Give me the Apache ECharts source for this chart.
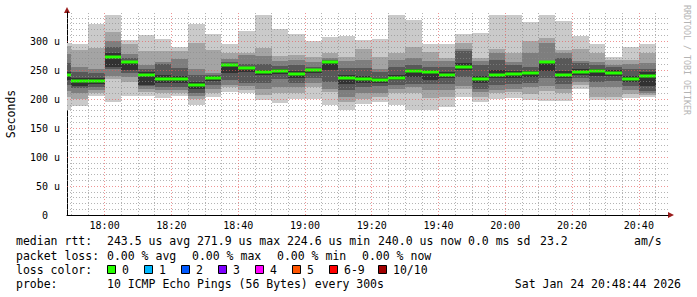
<!DOCTYPE html>
<html><head><meta charset="utf-8">
<script src="https://cdn.jsdelivr.net/npm/echarts@6/dist/echarts.min.js"></script>
<style>html,body{margin:0;padding:0;background:#fff}#c{width:697px;height:297px}</style>
</head><body><div id="c"></div>
<script>
// ---- data (rtt in microseconds; each sample = 10 sorted pings + median, 5-minute steps) ----
const sampleTimes = ['17:50','17:55','18:00','18:05','18:10','18:15','18:20','18:25','18:30','18:35','18:40','18:45',
  '18:50','18:55','19:00','19:05','19:10','19:15','19:20','19:25','19:30','19:35','19:40','19:45',
  '19:50','19:55','20:00','20:05','20:10','20:15','20:20','20:25','20:30','20:35','20:40','20:45'];
const ping1  = [181,188,205,195,205,205,202,205,190,204,212,210,198,193,200,200,190,181,191,194,190,181,181,186,204,194,200,202,198,197,197,217,198,198,201,204];
const ping2  = [203,200,211,234,230,212,210,210,200,211,220,216,207,211,210,220,212,194,200,204,210,211,201,204,217,204,210,212,208,214,210,224,204,204,208,207];
const ping3  = [213,210,216,240,238,217,215,216,205,217,225,222,217,220,220,228,218,203,210,210,218,220,215,215,222,212,216,218,220,222,218,230,220,220,215,210];
const ping4  = [225,219,221,252,244,222,221,221,210,224,233,227,227,234,228,237,229,216,220,222,225,226,226,226,238,217,224,226,228,236,226,236,230,231,222,214];
const ping5  = [232,223,226,256,250,225,228,228,218,231,244,247,241,243,236,244,250,226,227,228,232,238,232,236,250,228,236,236,238,249,236,241,240,240,230,222];
const median = [241,231,231,271.9,264,241,234,234,224.6,237,258.6,253.4,246,248.5,243.6,250,264,235.7,234,233,237,248.5,246,241.5,256,235,242,243.5,245,263.2,241,246.4,248.5,245,234,240];
const ping6  = [246,236,236,280,266,246,242,240,230,240,261,256,250,251,249,252,266,242,240,236,242,252,250,246,262,240,250,248,249,265,248,252,252,250,240,246];
const ping7  = [262,246,245,290,271,251,260,253,241,242,264,260,260,257,259,256,268,254,253,246,256,259,255,255,282,258,268,258,255,266,270,262,258,255,252,251];
const ping8  = [278,256,252,300,278,258,264,269,251,245,269,276,274,266,267,264,271,265,268,252,267,270,266,265,286,265,279,264,279,296,280,266,263,258,260,262];
const ping9  = [292,284,288,316,294,283,283,283,297,284,280,279,288,275,276,272,280,272,286,273,280,290,281,270,296,270,287,280,300,305,285,287,279,267,268,279];
const ping10 = [297,294,330,345,301,311,303,290,330,312,295,317,345,320,312,300,307,309,302,303,345,336,295,295,312,313,345,345,333,345,334,309,295,272,290,295];
const xTickLabels = ['18:00','18:20','18:40','19:00','19:20','19:40','20:00','20:20','20:40'];
const yTickValues = [0,50,100,150,200,250,300];
const rangeStart = '17:48:44', rangeEnd = '20:48:44';
const statLine1 = ['median rtt:','243.5 us avg','271.9 us max','224.6 us min','240.0 us now','0.0 ms sd','23.2','am/s'];
const statLine2 = ['packet loss:','0.00 % avg','0.00 % max','0.00 % min','0.00 % now'];
const lossLabels = ['0','1','2','3','4','5','6-9','10/10'];
const lossColors = ['#26ff00','#00b8ff','#0059ff','#7e00ff','#ff00ff','#ff5500','#ff0000','#a10000'];
const probeText = '10 ICMP Echo Pings (56 Bytes) every 300s';
const stampText = 'Sat Jan 24 20:48:44 2026';

// ---- build ----
function toMin(s){ const p = s.split(':').map(Number); return p[0]*60 + p[1] + (p[2]||0)/60; }
const xMin = toMin(rangeStart), xMax = toMin(rangeEnd), step = 5;
const pings = [ping1,ping2,ping3,ping4,ping5,ping6,ping7,ping8,ping9,ping10];
const bandColors = ['#cacaca','#a4a4a4','#7e7e7e','#585858','#323232'];
const smokeData = [];
for (let b = 0; b < 5; b++) {
  for (let i = 0; i < sampleTimes.length; i++) {
    const t1 = toMin(sampleTimes[i]);
    smokeData.push([Math.max(t1 - step, xMin), t1, pings[b][i], pings[9 - b][i], b]);
  }
}
const medianData = sampleTimes.map((t, i) => [Math.max(toMin(t) - step, xMin), toMin(t), median[i]]);
const majorX = xTickLabels.map(toMin);
const minorX = [], minorY = [], majorY = [];
for (let t = Math.ceil(xMin / 5) * 5; t < xMax; t += 5) if (t % 20 !== 0) minorX.push(t);
for (let v = 10; v < 350; v += 10) (v % 50 === 0 ? majorY : minorY).push(v);

const mono = '"DejaVu Sans Mono", monospace';
function fmtTime(v){ const h = Math.floor(v/60), m = Math.round(v%60); return (h<10?'0':'')+h+':'+(m<10?'0':'')+m; }

const minorStyle = {color:'rgba(140,140,140,0.65)', width:1, type:[1,2]};
const majorStyle = {color:'rgba(230,90,90,0.65)', width:1, type:[1,2]};
function ml(arr, key, style){ return arr.map(v => ({[key]: v, lineStyle: style})); }

function rectItem(api, x0, x1, lo, hi, fill){
  const a = api.coord([x0, hi]), b = api.coord([x1, lo]);
  const xa = Math.round(a[0]), xb = Math.round(b[0]), ya = Math.round(a[1]), yb = Math.round(b[1]);
  return {type:'rect', shape:{x:xa, y:ya, width:xb-xa, height:Math.max(yb-ya,1)}, style:{fill:fill}};
}

const legendFont = '11.5px ' + mono;
const graphics = [];
function txt(t, x, y, opts){ graphics.push({type:'text', x:x, y:y, style:Object.assign({text:t, fill:'#000', font:legendFont, verticalAlign:'middle', align:'left'}, opts||{})}); }
const l1x = [16,107,197,287,378,468,540,634];
statLine1.forEach((t,i)=>txt(t, l1x[i], 241));
const l2x = [16,107,192,277,362];
statLine2.forEach((t,i)=>txt(t, l2x[i], 255.5));
txt('loss color:', 16, 269.5);
const boxX = [107,144,181,218,255,292,329,378];
lossLabels.forEach((t,i)=>{
  graphics.push({type:'rect', shape:{x:boxX[i]+0.5, y:265.5, width:8, height:8}, style:{fill:lossColors[i], stroke:'#000', lineWidth:1}});
  txt(t, boxX[i]+15, 269.5);
});
txt('probe:', 16, 284);
txt(probeText, 107, 284);
txt(stampText, 681, 284, {align:'right'});
graphics.push({type:'text', x:11, y:114, rotation:Math.PI/2, style:{text:'Seconds', fill:'#000', font:'11.5px '+mono, align:'center', verticalAlign:'middle'}});
graphics.push({type:'text', x:687, y:60, rotation:-Math.PI/2, style:{text:'RRDTOOL / TOBI OETIKER', fill:'#b4b4b4', font:'8.3px '+mono, align:'center', verticalAlign:'middle'}});
graphics.push({type:'polygon', shape:{points:[[64,13],[70,13],[67,7]]}, style:{fill:'#9a1c1c'}});
graphics.push({type:'polygon', shape:{points:[[668,212],[668,218],[674,215]]}, style:{fill:'#9a1c1c'}});

const chart = echarts.init(document.getElementById('c'), null, {renderer:'svg'});
chart.setOption({
  animation:false,
  backgroundColor:'#fff',
  grid:{left:67, right:29, top:12, bottom:82},
  xAxis:{type:'value', min:xMin, max:xMax,
    axisLine:{show:true, lineStyle:{color:'#000', width:1}},
    axisTick:{show:false},
    splitLine:{show:false},
    axisLabel:{customValues:majorX, formatter:fmtTime, color:'#000', fontFamily:mono, fontSize:10, margin:5}},
  yAxis:{type:'value', min:0, max:350, interval:50,
    axisLine:{show:true, lineStyle:{color:'#000', width:1}},
    axisTick:{show:false},
    splitLine:{show:false},
    axisLabel:{color:'#000', fontFamily:mono, fontSize:10, margin:7,
      formatter:v => yTickValues.indexOf(v) < 0 ? '' : (v === 0 ? '0\u00a0\u00a0' : v + ' u')}},
  series:[
    {type:'custom', name:'smoke', data:smokeData, z:2, silent:true,
      renderItem:(p, api)=>rectItem(api, api.value(0), api.value(1), api.value(2), api.value(3), bandColors[api.value(4)])},
    {type:'custom', name:'median', data:medianData, z:3, silent:true,
      renderItem:(p, api)=>{
        const a = api.coord([api.value(0), api.value(2)]), b = api.coord([api.value(1), api.value(2)]);
        const xa = Math.round(a[0]), xb = Math.round(b[0]), y = Math.round(a[1]);
        return {type:'rect', shape:{x:xa, y:y-1.5, width:xb-xa, height:3}, style:{fill:lossColors[0]}};
      }},
    {type:'line', name:'grid', data:[], z:4, silent:true,
      markLine:{silent:true, symbol:['none','none'], label:{show:false}, animation:false,
        data:[].concat(ml(minorY,'yAxis',minorStyle), ml(minorX,'xAxis',minorStyle), ml(majorY,'yAxis',majorStyle), ml(majorX,'xAxis',majorStyle))}}
  ],
  graphic:graphics
});
</script></body></html>
